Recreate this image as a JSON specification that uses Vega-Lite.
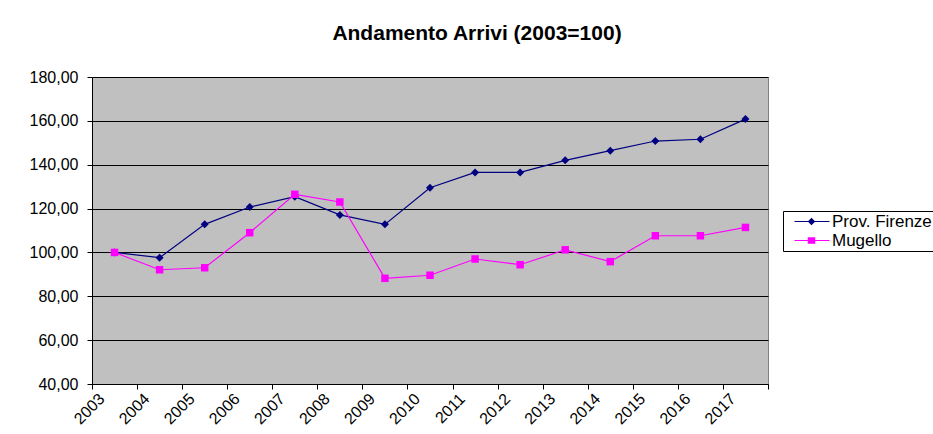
{
  "$schema": "https://vega.github.io/schema/vega-lite/v6.json",
  "autosize": "none",
  "width": 676,
  "height": 307,
  "padding": {"left": 92, "top": 77, "right": 165, "bottom": 50},
  "background": "white",
  "title": {
    "text": "Andamento Arrivi (2003=100)",
    "font": "Liberation Sans",
    "fontSize": 21,
    "fontWeight": "bold",
    "color": "black",
    "anchor": "middle",
    "frame": "group",
    "baseline": "alphabetic",
    "offset": 8,
    "dx": 47
  },
  "config": {
    "view": {"fill": "#C0C0C0", "stroke": "#808080", "strokeWidth": 1},
    "font": "Liberation Sans"
  },
  "data": {
    "values": [
      {"year": "2003", "series": "Prov. Firenze", "value": 100.0},
      {"year": "2004", "series": "Prov. Firenze", "value": 97.6},
      {"year": "2005", "series": "Prov. Firenze", "value": 112.8},
      {"year": "2006", "series": "Prov. Firenze", "value": 120.7},
      {"year": "2007", "series": "Prov. Firenze", "value": 125.4},
      {"year": "2008", "series": "Prov. Firenze", "value": 117.1},
      {"year": "2009", "series": "Prov. Firenze", "value": 112.8},
      {"year": "2010", "series": "Prov. Firenze", "value": 129.5},
      {"year": "2011", "series": "Prov. Firenze", "value": 136.5},
      {"year": "2012", "series": "Prov. Firenze", "value": 136.5},
      {"year": "2013", "series": "Prov. Firenze", "value": 142.0},
      {"year": "2014", "series": "Prov. Firenze", "value": 146.4},
      {"year": "2015", "series": "Prov. Firenze", "value": 150.8},
      {"year": "2016", "series": "Prov. Firenze", "value": 151.6},
      {"year": "2017", "series": "Prov. Firenze", "value": 160.8},
      {"year": "2003", "series": "Mugello", "value": 100.0},
      {"year": "2004", "series": "Mugello", "value": 92.1},
      {"year": "2005", "series": "Mugello", "value": 93.0},
      {"year": "2006", "series": "Mugello", "value": 109.0},
      {"year": "2007", "series": "Mugello", "value": 126.5},
      {"year": "2008", "series": "Mugello", "value": 123.0},
      {"year": "2009", "series": "Mugello", "value": 88.2},
      {"year": "2010", "series": "Mugello", "value": 89.6},
      {"year": "2011", "series": "Mugello", "value": 97.0},
      {"year": "2012", "series": "Mugello", "value": 94.4},
      {"year": "2013", "series": "Mugello", "value": 101.2},
      {"year": "2014", "series": "Mugello", "value": 95.8},
      {"year": "2015", "series": "Mugello", "value": 107.6},
      {"year": "2016", "series": "Mugello", "value": 107.6},
      {"year": "2017", "series": "Mugello", "value": 111.4}
    ]
  },
  "encoding": {
    "x": {
      "field": "year",
      "type": "ordinal",
      "bandPosition": 0.5,
      "scale": {"type": "band", "paddingInner": 0, "paddingOuter": 0},
      "axis": {
        "title": null,
        "labelAngle": -45,
        "labelAlign": "right",
        "labelBaseline": "middle",
        "labelFontSize": 16,
        "labelColor": "black",
        "labelPadding": 7,
        "labelOffset": -13,
        "tickBand": "extent",
        "tickSize": 5,
        "tickColor": "black",
        "domainColor": "black",
        "grid": false
      }
    },
    "y": {
      "field": "value",
      "type": "quantitative",
      "scale": {"domain": [40, 180], "nice": false, "zero": false},
      "axis": {
        "title": null,
        "values": [40, 60, 80, 100, 120, 140, 160, 180],
        "labelExpr": "replace(format(datum.value, '.2f'), '.', ',')",
        "labelFontSize": 16,
        "labelColor": "black",
        "labelPadding": 9,
        "tickSize": 5,
        "tickColor": "black",
        "domainColor": "black",
        "grid": true,
        "gridColor": "black",
        "gridWidth": 1
      }
    }
  },
  "layer": [
    {
      "mark": {"type": "point", "filled": true, "opacity": 0, "size": 100},
      "encoding": {
        "color": {
          "field": "series", "type": "nominal",
          "scale": {"domain": ["Prov. Firenze", "Mugello"], "range": ["#000080", "#FF00FF"]},
          "legend": {"orient": "none", "legendX": 691, "legendY": 134, "title": null, "labelFontSize": 17, "labelFont": "Liberation Sans", "labelColor": "black", "symbolSize": 100, "symbolStrokeWidth": 0, "symbolOpacity": 1, "symbolOffset": 33, "padding": 2, "rowPadding": 1, "labelOffset": -3, "strokeColor": "black", "fillColor": "white"}
        },
        "shape": {
          "field": "series", "type": "nominal",
          "scale": {"domain": ["Prov. Firenze", "Mugello"], "range": [
            "M-6.4,-0.1L0.6,-0.1L0.6,0.1L-6.4,0.1ZM-3.75,0L-3,-0.75L-2.25,0L-3,0.75Z",
            "M-6.4,-0.1L0.6,-0.1L0.6,0.1L-6.4,0.1ZM-3.75,-0.65L-2.25,-0.65L-2.25,0.65L-3.75,0.65Z"
          ]},
          "legend": {"orient": "none", "legendX": 691, "legendY": 134, "title": null, "labelFontSize": 17, "labelFont": "Liberation Sans", "labelColor": "black", "symbolSize": 100, "symbolStrokeWidth": 0, "symbolOpacity": 1, "symbolOffset": 33, "padding": 2, "rowPadding": 1, "labelOffset": -3, "strokeColor": "black", "fillColor": "white"}
        }
      }
    },
    {
      "transform": [{"filter": "datum.series === 'Prov. Firenze'"}],
      "mark": {"type": "line", "strokeWidth": 1.2, "point": {"shape": "diamond", "size": 64, "filled": true, "opacity": 1}},
      "encoding": {
        "color": {"field": "series", "type": "nominal", "scale": {"domain": ["Prov. Firenze", "Mugello"], "range": ["#000080", "#FF00FF"]}, "legend": null}
      }
    },
    {
      "transform": [{"filter": "datum.series === 'Mugello'"}],
      "mark": {"type": "line", "strokeWidth": 1.2, "point": {"shape": "square", "size": 56, "filled": true, "opacity": 1}},
      "encoding": {
        "color": {"field": "series", "type": "nominal", "scale": {"domain": ["Prov. Firenze", "Mugello"], "range": ["#000080", "#FF00FF"]}, "legend": null}
      }
    }
  ]
}
